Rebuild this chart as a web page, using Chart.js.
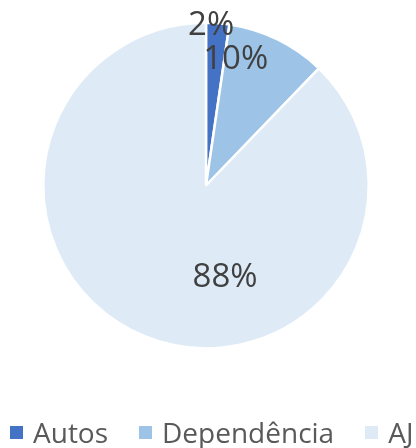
<!DOCTYPE html>
<html>
<head>
<meta charset="utf-8">
<script src="https://cdn.jsdelivr.net/npm/chart.js@4"></script>
<style>
  html, body { margin: 0; padding: 0; background: #fff; overflow: hidden; }
  #wrap { position: relative; width: 416px; height: 448px; overflow: hidden; }
  #legend {
    position: absolute; left: 10px; top: 412px; height: 40px;
    display: flex; align-items: center; gap: 31px; white-space: nowrap;
    font-family: "Open Sans", sans-serif; font-size: 28px; color: #595959;
  }
  #legend span.item { display: flex; align-items: center; }
  #legend i { display: inline-block; width: 13px; height: 13px; margin-right: 10px; }
</style>
</head>
<body>
<div id="wrap">
  <canvas id="pieChart"></canvas>
  <div id="legend"></div>
</div>
<script>
const categories = ['Autos', 'Dependência', 'AJ'];
const shares = [2.3, 9.9, 87.8];
const sliceColors = ['#4472C4', '#9DC3E6', '#DEEBF7'];

// where each percentage label sits: degrees clockwise from top, fraction of radius
const labelSpots = [
    { angle: 1.8, r: 1.0 },
    { angle: 13, r: 0.81 },
    { angle: 168, r: 0.565 }
];

const pctLabels = {
    id: 'pctLabels',
    afterDatasetsDraw(chart) {
        const ctx = chart.ctx;
        const meta = chart.getDatasetMeta(0);
        const values = chart.data.datasets[0].data;
        const total = values.reduce((a, b) => a + b, 0);
        const size = 33;
        ctx.save();
        ctx.font = size + 'px "Open Sans", sans-serif';
        ctx.fillStyle = '#404040';
        ctx.textAlign = 'center';
        ctx.textBaseline = 'alphabetic';
        meta.data.forEach((arc, i) => {
            const spot = labelSpots[i];
            const a = spot.angle * Math.PI / 180;
            const x = arc.x + Math.sin(a) * spot.r * arc.outerRadius;
            const y = arc.y - Math.cos(a) * spot.r * arc.outerRadius;
            ctx.fillText(Math.round(values[i] / total * 100) + '%', x, y + size * 0.357);
        });
        ctx.restore();
    }
};

const ctx = document.querySelector('#pieChart').getContext('2d');

new Chart(ctx, {
    type: 'pie',
    data: {
        labels: categories,
        datasets: [{
            data: shares,
            backgroundColor: sliceColors,
            borderColor: '#ffffff',
            borderWidth: 2.5
        }]
    },
    options: {
        responsive: true,
        maintainAspectRatio: false,
        animation: false,
        layout: {
            padding: { top: 21, bottom: 98, left: 42, right: 46 }
        },
        plugins: {
            legend: { display: false },
            tooltip: { enabled: false }
        }
    },
    plugins: [pctLabels]
});

// legend below the pie, built from the same arrays
const legend = document.querySelector('#legend');
categories.forEach((name, i) => {
    const item = document.createElement('span');
    item.className = 'item';
    const box = document.createElement('i');
    box.style.background = sliceColors[i];
    item.appendChild(box);
    item.appendChild(document.createTextNode(name));
    legend.appendChild(item);
});
</script>
</body>
</html>
